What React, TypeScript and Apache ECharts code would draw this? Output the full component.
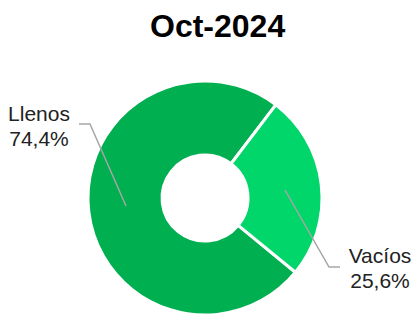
import React, { useEffect, useRef } from "react";
import * as echarts from "echarts";

const title = "Oct-2024";
const categories = ["Llenos", "Vacíos"];
const values = [74.4, 25.6];
const colors = ["#00AF50", "#00D66A"];

export default function App() {
  const ref = useRef<HTMLDivElement>(null);
  useEffect(() => {
    document.body.style.margin = "0";
    const chart = echarts.init(ref.current!, null, { renderer: "svg" });
    const labelPos = [
      { x: 39, y: 126 },
      { x: 380, y: 268 },
    ];
    const linePts = [
      [[126, 206], [90, 124], [79, 124]],
      [[285, 190], [329, 267], [340, 267]],
    ];
    chart.setOption({
      animation: false,
      backgroundColor: "#ffffff",
      title: {
        text: title,
        left: 145,
        top: 5,
        textStyle: {
          fontFamily: "Liberation Sans",
          fontSize: 32,
          fontWeight: "bold",
          color: "#000000",
        },
      },
      graphic: linePts.map((pts) => ({
        type: "polyline",
        shape: { points: pts },
        style: { stroke: "#A6A6A6", lineWidth: 1.5, fill: null },
        z: 10,
      })),
      series: [
        {
          type: "pie",
          center: [205, 198],
          radius: [43, 117],
          startAngle: -39.4,
          itemStyle: { borderColor: "#ffffff", borderWidth: 3 },
          label: {
            show: true,
            position: "outside",
            fontFamily: "Liberation Sans",
            fontSize: 21,
            lineHeight: 25,
            color: "#222222",
            align: "center",
            overflow: "none",
            width: 100,
            formatter: (p: any) =>
              `${p.name}\n${p.percent.toFixed(1).replace(".", ",")}%`,
          },
          labelLine: { show: false },
          labelLayout: (params: any) => {
            const l = labelPos[params.dataIndex];
            return {
              x: l.x,
              y: l.y,
              align: "center",
              verticalAlign: "middle",
            };
          },
          emphasis: { disabled: true },
          data: categories.map((name, i) => ({
            name,
            value: values[i],
            itemStyle: { color: colors[i] },
          })),
        },
      ],
    });
    return () => chart.dispose();
  }, []);
  return <div ref={ref} style={{ width: 418, height: 320 }} />;
}
